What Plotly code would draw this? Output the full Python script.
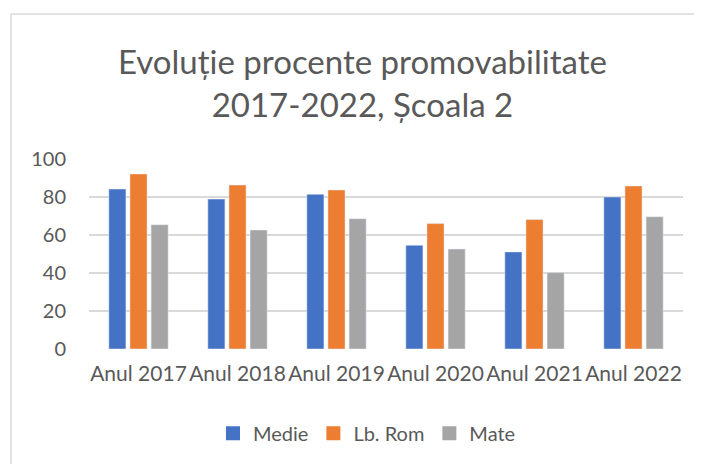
import plotly.graph_objects as go

# data
categories = ["Anul 2017", "Anul 2018", "Anul 2019", "Anul 2020", "Anul 2021", "Anul 2022"]
series_names = ["Medie", "Lb. Rom", "Mate"]
medie = [84.2, 78.9, 81.4, 54.6, 51.1, 80.0]
lb_rom = [92.1, 86.3, 83.7, 66.0, 68.1, 85.8]
mate = [65.4, 62.6, 68.6, 52.6, 40.2, 69.6]
y_ticks = [0, 20, 40, 60, 80, 100]

colors = ["#4472C4", "#ED7D31", "#A5A5A5"]
text_col = "#595959"
font_name = "Lato, 'Open Sans', sans-serif"

fig = go.Figure()
for name, vals, col in zip(series_names, [medie, lb_rom, mate], colors):
    fig.add_trace(go.Bar(x=categories, y=vals, name=name, marker_color=col, showlegend=False))
# legend-only entries with bigger square swatches
for name, col in zip(series_names, colors):
    fig.add_trace(go.Scatter(x=[None], y=[None], mode="markers", name=name,
                             marker=dict(symbol="square", size=14, color=col)))

# page body has an 8px offset, plot area on page: x 89..683, y 159..349
fig.update_layout(
    width=702, height=464,
    margin=dict(l=81, r=27, t=151, b=123, autoexpand=False),
    paper_bgcolor="white", plot_bgcolor="white",
    barmode="group", bargap=0.36, bargroupgap=0.19,
    font=dict(family=font_name, color=text_col, size=20),
    showlegend=True,
    legend=dict(orientation="h", x=0.468, xanchor="center", y=-0.443, yanchor="middle",
                font=dict(size=20, color=text_col), itemwidth=30, traceorder="normal"),
    xaxis=dict(showgrid=False, showline=False, ticks="", ticklabelstandoff=10,
               tickfont=dict(size=21, color=text_col)),
    yaxis=dict(range=[0, 100], tickvals=y_ticks, showgrid=True, gridcolor="#D9D9D9",
               gridwidth=1.5, zeroline=False, showline=False, ticks="",
               ticklabelstandoff=22, tickfont=dict(size=20, color=text_col)),
)

# chart title
fig.add_annotation(text="Evoluție procente promovabilitate<br>2017-2022, Școala 2",
                   xref="paper", yref="paper", x=0.46, y=(349 - 82) / 190,
                   xanchor="center", yanchor="middle",
                   showarrow=False, font=dict(size=33, color=text_col, family=font_name))

# outer chart border
fig.add_shape(type="rect", xref="paper", yref="paper",
              x0=(11 - 89) / 594, x1=(720 - 89) / 594, y0=-0.75, y1=(349 - 14) / 190,
              line=dict(color="#D9D9D9", width=1.5), fillcolor="rgba(0,0,0,0)", layer="below")

fig.write_html("out.html")
